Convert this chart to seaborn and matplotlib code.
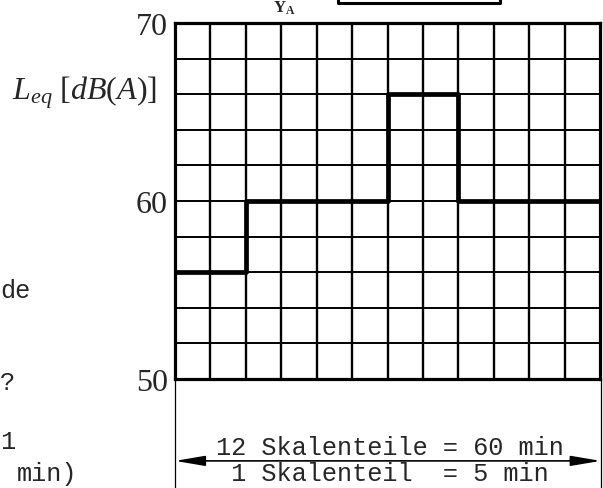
import numpy as np
import pandas as pd
import matplotlib
matplotlib.use('Agg')
import matplotlib.pyplot as plt
import seaborn as sns

sns.set_style('white')
plt.rcParams['font.family'] = ['Liberation Serif', 'DejaVu Serif']
plt.rcParams['mathtext.fontset'] = 'custom'
plt.rcParams['mathtext.rm'] = 'Liberation Serif'
plt.rcParams['mathtext.it'] = 'Liberation Serif:italic'
plt.rcParams['mathtext.bf'] = 'Liberation Serif:bold'

# step curve of the measured level (time in min, level in dB(A))
minutes = [0, 10, 30, 40, 60]
leq = [56, 60, 66, 60, 60]
y_ticks = [50, 60, 70]
y_labels = ['50', '60', '70']

df = pd.DataFrame({'t': minutes, 'leq': leq})

W, H = 603, 489
fig = plt.figure(figsize=(W / 100, H / 100), dpi=100)


def px(x, y):
    return x / W, 1 - y / H


ax = fig.add_axes([175 / W, 1 - 380 / H, (600 - 175) / W, (380 - 24) / H])

# grid: 12 columns of 5 min, 10 rows of 2 dB
for x in np.arange(5, 60, 5):
    ax.axvline(x, color='black', lw=1.7, zorder=1)
for y in np.arange(52, 70, 2):
    ax.axhline(y, color='black', lw=1.4, zorder=1)

sns.lineplot(data=df, x='t', y='leq', drawstyle='steps-post', estimator=None,
             color='black', lw=3.4, ax=ax, zorder=3)

ax.set_xlim(0, 60)
ax.set_ylim(50, 70)
ax.set_xticks([])
ax.set_yticks(y_ticks)
ax.set_yticklabels(y_labels, fontsize=23)
ax.tick_params(axis='y', length=0, pad=5)
ax.set_xlabel('')
ax.set_ylabel('')
for s in ax.spines.values():
    s.set_color('black')
    s.set_linewidth(2.3)

# extension lines and time-scale arrow below the grid
fig.add_artist(plt.Line2D([175 / W, 175 / W], [1 - 380 / H, 0], color='black', lw=0.9))
fig.add_artist(plt.Line2D([601 / W, 601 / W], [1 - 380 / H, 0], color='black', lw=0.9))
ax.annotate('', xy=(0, 45.4), xytext=(60.1, 45.4), xycoords='data',
            annotation_clip=False,
            arrowprops=dict(arrowstyle='<|-|>,head_length=1.3,head_width=0.22',
                            mutation_scale=14, color='black', lw=1.2,
                            shrinkA=0, shrinkB=0))

mono = ['Liberation Mono', 'DejaVu Sans Mono']
fig.text(*px(216, 448), '12 Skalenteile = 60 min', family=mono, fontsize=18.2,
         ha='left', va='center')
fig.text(*px(216, 474), ' 1 Skalenteil  = 5 min', family=mono, fontsize=18.2,
         ha='left', va='center')

# y label
fig.text(*px(12, 93), r'$L_{eq}\ [dB(A)]$', fontsize=23, ha='left', va='center')

# cut-off bits of the surrounding page
fig.text(*px(284, 8), r'$\mathbf{Y}_{\mathbf{A}}$', fontsize=12, ha='center', va='center')
fig.add_artist(plt.Line2D([338 / W, 338 / W, 500 / W, 500 / W],
                          [1.0, 1 - 4 / H, 1 - 4 / H, 1.0], color='black', lw=2.2))
fig.text(*px(0, 291), 'de', family=mono, fontsize=18.2, ha='left', va='center')
fig.text(*px(0, 383), '?', family=mono, fontsize=18.2, ha='left', va='center')
fig.text(*px(0, 442), '1', family=mono, fontsize=18.2, ha='left', va='center')
fig.text(*px(17, 474), 'min)', family=mono, fontsize=18.2, ha='left', va='center')

fig.savefig('out.png', dpi=100)
